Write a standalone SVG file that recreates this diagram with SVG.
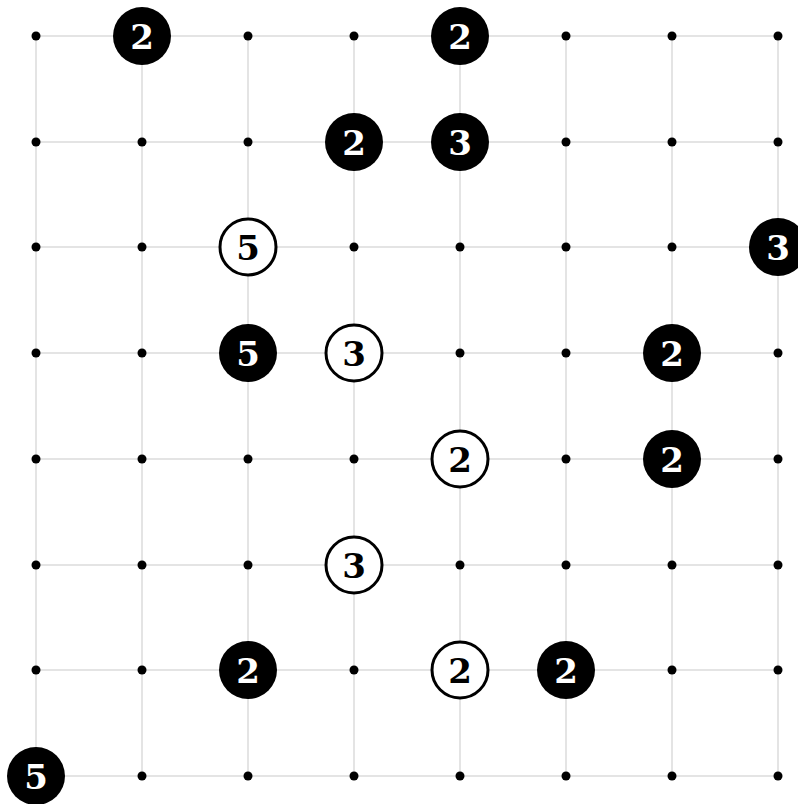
<svg xmlns="http://www.w3.org/2000/svg" width="798" height="804" viewBox="0 0 798 804">
<style>
.g{stroke:#dcdcdc;stroke-width:1.5;fill:none}
.d{fill:#000}
.b{fill:#000}
.w{fill:#fff;stroke:#000;stroke-width:3}
.tb{font-family:"DejaVu Serif",serif;font-weight:bold;font-size:34px;fill:#fff;text-anchor:middle}
.tw{font-family:"DejaVu Serif",serif;font-weight:bold;font-size:34px;fill:#000;text-anchor:middle}
</style>
<rect width="798" height="804" fill="#fff"/>
<g id="grid" class="g">
<path d="M36 36H778M36 142H778M36 247H778M36 353H778M36 459H778M36 565H778M36 670H778M36 776H778"/>
<path d="M36 36V776M142 36V776M248 36V776M354 36V776M460 36V776M566 36V776M672 36V776M778 36V776"/>
</g>
<g id="dots" class="d">
<circle cx="36" cy="36" r="4.5"/><circle cx="248" cy="36" r="4.5"/><circle cx="354" cy="36" r="4.5"/><circle cx="566" cy="36" r="4.5"/><circle cx="672" cy="36" r="4.5"/><circle cx="778" cy="36" r="4.5"/>
<circle cx="36" cy="142" r="4.5"/><circle cx="142" cy="142" r="4.5"/><circle cx="248" cy="142" r="4.5"/><circle cx="566" cy="142" r="4.5"/><circle cx="672" cy="142" r="4.5"/><circle cx="778" cy="142" r="4.5"/>
<circle cx="36" cy="247" r="4.5"/><circle cx="142" cy="247" r="4.5"/><circle cx="354" cy="247" r="4.5"/><circle cx="460" cy="247" r="4.5"/><circle cx="566" cy="247" r="4.5"/><circle cx="672" cy="247" r="4.5"/>
<circle cx="36" cy="353" r="4.5"/><circle cx="142" cy="353" r="4.5"/><circle cx="460" cy="353" r="4.5"/><circle cx="566" cy="353" r="4.5"/><circle cx="778" cy="353" r="4.5"/>
<circle cx="36" cy="459" r="4.5"/><circle cx="142" cy="459" r="4.5"/><circle cx="248" cy="459" r="4.5"/><circle cx="354" cy="459" r="4.5"/><circle cx="566" cy="459" r="4.5"/><circle cx="778" cy="459" r="4.5"/>
<circle cx="36" cy="565" r="4.5"/><circle cx="142" cy="565" r="4.5"/><circle cx="248" cy="565" r="4.5"/><circle cx="460" cy="565" r="4.5"/><circle cx="566" cy="565" r="4.5"/><circle cx="672" cy="565" r="4.5"/><circle cx="778" cy="565" r="4.5"/>
<circle cx="36" cy="670" r="4.5"/><circle cx="142" cy="670" r="4.5"/><circle cx="354" cy="670" r="4.5"/><circle cx="672" cy="670" r="4.5"/><circle cx="778" cy="670" r="4.5"/>
<circle cx="142" cy="776" r="4.5"/><circle cx="248" cy="776" r="4.5"/><circle cx="354" cy="776" r="4.5"/><circle cx="460" cy="776" r="4.5"/><circle cx="566" cy="776" r="4.5"/><circle cx="672" cy="776" r="4.5"/><circle cx="778" cy="776" r="4.5"/>
</g>
<g id="c1"><circle class="b" cx="142" cy="36" r="29"/><text class="tb" x="142" y="49">2</text></g>
<g id="c2"><circle class="b" cx="460" cy="36" r="29"/><text class="tb" x="460" y="49">2</text></g>
<g id="c3"><circle class="b" cx="354" cy="142" r="29"/><text class="tb" x="354" y="155">2</text></g>
<g id="c4"><circle class="b" cx="460" cy="142" r="29"/><text class="tb" x="460" y="155">3</text></g>
<g id="c5"><circle class="w" cx="248" cy="247" r="28"/><text class="tw" x="248" y="260">5</text></g>
<g id="c6"><circle class="b" cx="778" cy="247" r="29"/><text class="tb" x="778" y="260">3</text></g>
<g id="c7"><circle class="b" cx="248" cy="353" r="29"/><text class="tb" x="248" y="366">5</text></g>
<g id="c8"><circle class="w" cx="354" cy="353" r="28"/><text class="tw" x="354" y="366">3</text></g>
<g id="c9"><circle class="b" cx="672" cy="353" r="29"/><text class="tb" x="672" y="366">2</text></g>
<g id="c10"><circle class="w" cx="460" cy="459" r="28"/><text class="tw" x="460" y="472">2</text></g>
<g id="c11"><circle class="b" cx="672" cy="459" r="29"/><text class="tb" x="672" y="472">2</text></g>
<g id="c12"><circle class="w" cx="354" cy="565" r="28"/><text class="tw" x="354" y="578">3</text></g>
<g id="c13"><circle class="b" cx="248" cy="670" r="29"/><text class="tb" x="248" y="683">2</text></g>
<g id="c14"><circle class="w" cx="460" cy="670" r="28"/><text class="tw" x="460" y="683">2</text></g>
<g id="c15"><circle class="b" cx="566" cy="670" r="29"/><text class="tb" x="566" y="683">2</text></g>
<g id="c16"><circle class="b" cx="36" cy="776" r="29"/><text class="tb" x="36" y="789">5</text></g>
</svg>
